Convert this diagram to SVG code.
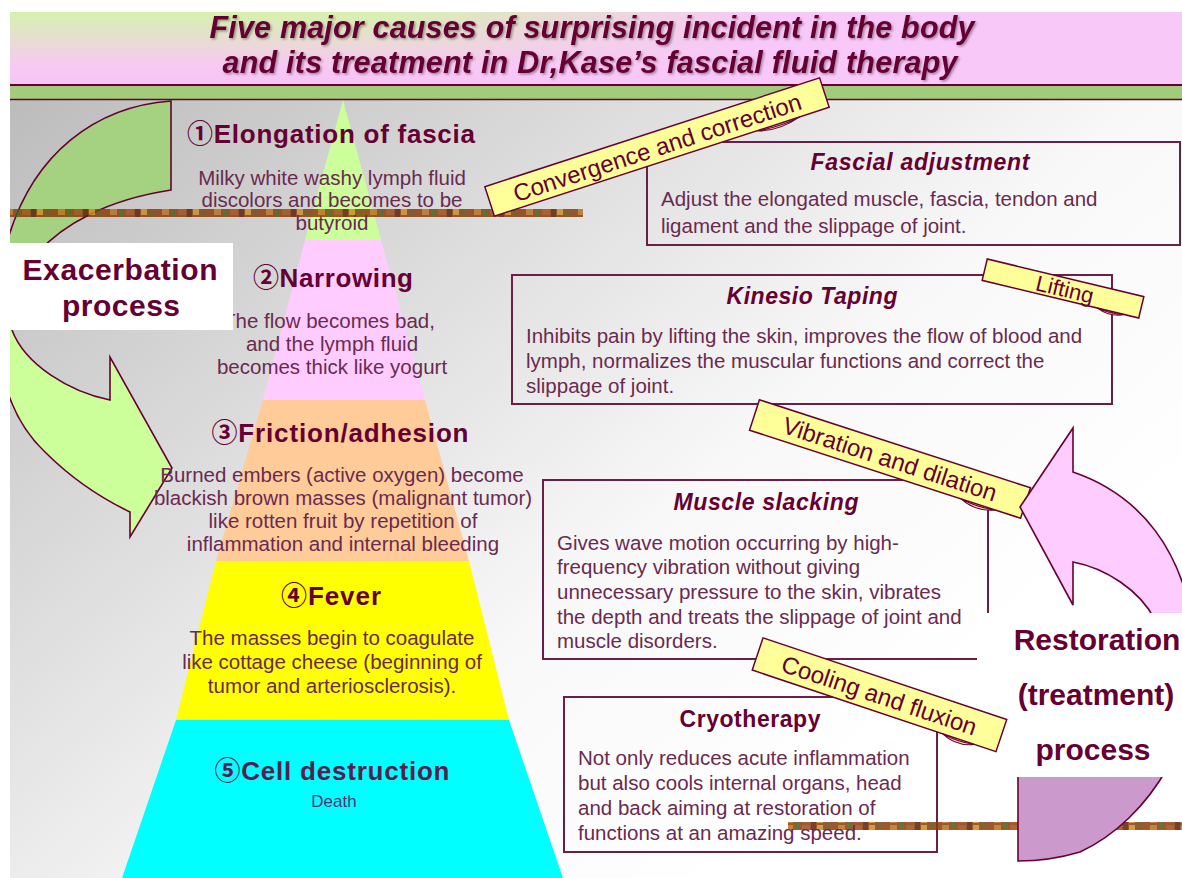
<svg xmlns="http://www.w3.org/2000/svg" width="1182" height="878" viewBox="0 0 1182 878">
<defs>
<style>
.ttl{font-family:"Liberation Sans",Arial,sans-serif;font-weight:bold;font-style:italic;font-size:30.5px;fill:#660033;text-anchor:middle}
.hd{font-family:"Liberation Sans",Arial,"Noto Sans CJK JP",sans-serif;font-weight:bold;font-size:26px;fill:#660033;text-anchor:middle}
.bd{font-family:"Liberation Sans",Arial,sans-serif;font-size:20.5px;fill:#6a2a50;text-anchor:middle}
.bt{font-family:"Liberation Sans",Arial,sans-serif;font-size:20.5px;fill:#6a2a50}
.bh{font-family:"Liberation Sans",Arial,sans-serif;font-weight:bold;font-style:italic;font-size:23px;fill:#660033;text-anchor:middle}
.bx{fill:none;stroke:#6b1f47;stroke-width:2}
.lab{fill:#ffff99;stroke:#660033;stroke-width:1.5}
.curl{fill:#eedcaa;stroke:#660033;stroke-width:1}
.lt{font-family:"Liberation Sans",Arial,sans-serif;font-size:24px;fill:#660033;text-anchor:middle}
.big{font-family:"Liberation Sans",Arial,sans-serif;font-weight:bold;font-size:30px;fill:#660033;text-anchor:middle}
.arr{stroke:#660033;stroke-width:1.6}
</style>
<linearGradient id="bg" gradientUnits="userSpaceOnUse" x1="10" y1="100" x2="700" y2="900">
<stop offset="0" stop-color="#bcbcbc"/><stop offset="0.7" stop-color="#f8f8f8"/><stop offset="1" stop-color="#ffffff"/>
</linearGradient>
<linearGradient id="tv" x1="0" y1="0" x2="0" y2="1">
<stop offset="0" stop-color="#d6f2ae"/><stop offset="0.75" stop-color="#f8c8f4"/><stop offset="1" stop-color="#f6c4f4"/>
</linearGradient>
<linearGradient id="th" gradientUnits="userSpaceOnUse" x1="380" y1="0" x2="760" y2="0">
<stop offset="0" stop-color="#f8c8f8" stop-opacity="0"/><stop offset="1" stop-color="#f8c8f8" stop-opacity="1"/>
</linearGradient>
<linearGradient id="lg" gradientUnits="userSpaceOnUse" x1="0" y1="243" x2="0" y2="330">
<stop offset="0" stop-color="#a4d280"/><stop offset="1" stop-color="#ccff99"/>
</linearGradient>
<linearGradient id="rg" gradientUnits="userSpaceOnUse" x1="0" y1="613" x2="0" y2="777">
<stop offset="0" stop-color="#ffccff"/><stop offset="1" stop-color="#cc99cc"/>
</linearGradient>
<pattern id="tex" width="52" height="8" patternUnits="userSpaceOnUse">
<rect x="0" y="0" width="52" height="8" fill="#8a3c0c"/>
<rect x="6" y="1" width="7" height="6" fill="#b8701c"/>
<rect x="15" y="0" width="5" height="7" fill="#4e5a16"/>
<rect x="22" y="1" width="8" height="6" fill="#a04a14"/>
<rect x="31" y="0" width="5" height="8" fill="#5a2008"/>
<rect x="37" y="1" width="6" height="6" fill="#c88c24"/>
<rect x="45" y="0" width="5" height="7" fill="#6a4a10"/>
</pattern>
<clipPath id="lc"><rect x="10" y="100" width="300" height="500"/></clipPath>
<filter id="sh" x="-5%" y="-20%" width="110%" height="150%">
<feDropShadow dx="1.5" dy="1.5" stdDeviation="0.8" flood-color="#000000" flood-opacity="0.35"/>
</filter>
</defs>

<rect width="1182" height="878" fill="#ffffff"/>
<rect x="10" y="100" width="1172" height="778" fill="url(#bg)"/>

<g id="title">
<rect x="10" y="12" width="1172" height="73" fill="url(#tv)"/>
<rect x="10" y="12" width="1172" height="73" fill="url(#th)"/>
<line x1="10" y1="85" x2="1182" y2="85" stroke="#660033" stroke-width="2"/>
<rect x="10" y="86" width="1172" height="13" fill="#a2cc7c"/>
<line x1="10" y1="99.5" x2="1182" y2="99.5" stroke="#660033" stroke-width="1.5"/>
<text class="ttl" x="592" y="38" textLength="765" filter="url(#sh)">Five major causes of surprising incident in the body</text>
<text class="ttl" x="590" y="73" textLength="735" filter="url(#sh)">and its treatment in Dr,Kase’s fascial fluid therapy</text>
</g>

<g id="exacerbation-arrow" clip-path="url(#lc)">
<path class="arr" fill="url(#lg)" d="M 171,101 C 100,106 30,150 5,250 C -15,330 0,410 45,452 C 75,482 105,500 130,512 L 130,537 L 172,468 L 110,357 L 110,400 C 70,392 25,365 12,330 C 0,290 40,210 171,190 Z"/>
</g>

<g id="pyramid">
<polygon points="343,100 381,240 305,240" fill="#ccff99"/>
<polygon points="305,240 381,240 425,400 263,400" fill="#ffccff"/>
<polygon points="263,400 425,400 469,561 216,561" fill="#ffcc99"/>
<polygon points="216,561 469,561 509,720 176,720" fill="#ffff00"/>
<polygon points="176,720 509,720 563,878 122,878" fill="#00ffff"/>
</g>

<rect id="band-top" x="10" y="209" width="573" height="8" fill="url(#tex)" opacity="0.85"/>

<g id="stage1">
<text class="hd" x="331" y="143" textLength="288">①Elongation of fascia</text>
<text class="bd" x="332" y="185">Milky white washy lymph fluid</text>
<text class="bd" x="332" y="207">discolors and becomes to be</text>
<text class="bd" x="332" y="230">butyroid</text>
</g>
<g id="stage2">
<text class="hd" x="333" y="287" textLength="160">②Narrowing</text>
<text class="bd" x="329" y="328">The flow becomes bad,</text>
<text class="bd" x="332" y="351">and the lymph fluid</text>
<text class="bd" x="332" y="374">becomes thick like yogurt</text>
</g>
<g id="stage3">
<text class="hd" x="340" y="442" textLength="257">③Friction/adhesion</text>
<text class="bd" x="342" y="482">Burned embers (active oxygen) become</text>
<text class="bd" x="343" y="505">blackish brown masses (malignant tumor)</text>
<text class="bd" x="343" y="528">like rotten fruit by repetition of</text>
<text class="bd" x="343" y="551">inflammation and internal bleeding</text>
</g>
<g id="stage4">
<text class="hd" x="331" y="605" textLength="100">④Fever</text>
<text class="bd" x="332" y="645">The masses begin to coagulate</text>
<text class="bd" x="332" y="669">like cottage cheese (beginning of</text>
<text class="bd" x="332" y="693">tumor and arteriosclerosis).</text>
</g>
<g id="stage5">
<text class="hd" x="332" y="780" textLength="235" style="fill:#552050">⑤Cell destruction</text>
<text x="334" y="807" style="font-family:'Liberation Sans',Arial,sans-serif;font-size:17px;fill:#553377;text-anchor:middle">Death</text>
</g>

<g id="exacerbation-label">
<rect x="10" y="243" width="223" height="87" fill="#ffffff"/>
<text class="big" x="120" y="280" textLength="195">Exacerbation</text>
<text class="big" x="121" y="316" textLength="118">process</text>
</g>

<g id="fascial-adjustment">
<rect class="bx" x="647" y="142" width="533" height="103"/>
<text class="bh" x="920" y="170" textLength="219">Fascial adjustment</text>
<text class="bt" x="661" y="206">Adjust the elongated muscle, fascia, tendon and</text>
<text class="bt" x="661" y="233">ligament and the slippage of joint.</text>
</g>

<g id="kinesio-taping">
<rect class="bx" x="512" y="275" width="600" height="129"/>
<text class="bh" x="812" y="304" textLength="171">Kinesio Taping</text>
<text class="bt" x="526" y="343">Inhibits pain by lifting the skin, improves the flow of blood and</text>
<text class="bt" x="526" y="368">lymph, normalizes the muscular functions and correct the</text>
<text class="bt" x="526" y="393">slippage of joint.</text>
</g>

<g id="muscle-slacking">
<rect class="bx" x="543" y="480" width="445" height="179"/>
<text class="bh" x="766" y="510" textLength="185">Muscle slacking</text>
<text class="bt" x="557" y="550">Gives wave motion occurring by high-</text>
<text class="bt" x="557" y="574">frequency vibration without giving</text>
<text class="bt" x="557" y="599">unnecessary pressure to the skin, vibrates</text>
<text class="bt" x="557" y="624">the depth and treats the slippage of joint and</text>
<text class="bt" x="557" y="648">muscle disorders.</text>
</g>

<g id="cryotherapy">
<rect class="bx" x="564" y="697" width="373" height="155"/>
<text class="bh" x="750" y="727" textLength="141" style="font-style:normal">Cryotherapy</text>
<rect id="band-bottom" x="788" y="822" width="394" height="8" fill="url(#tex)" opacity="0.85"/>
<text class="bt" x="578" y="765">Not only reduces acute inflammation</text>
<text class="bt" x="578" y="790">but also cools internal organs, head</text>
<text class="bt" x="578" y="815">and back aiming at restoration of</text>
<text class="bt" x="578" y="840">functions at an amazing speed.</text>
</g>

<g id="label-vibration" transform="translate(890,459) rotate(18)">
<rect class="lab" x="-142.5" y="-16" width="285" height="32"/>
<path class="curl" d="M 80,16 Q 97,24 116,16 Q 98,19 80,16 Z"/>
<text class="lt" x="0" y="8.5">Vibration and dilation</text>
</g>

<g id="restoration-arrow">
<path class="arr" fill="url(#rg)" d="M 1020,507 L 1073,428 L 1073,472 C 1140,495 1185,550 1195,640 C 1205,730 1150,820 1080,852 C 1060,858 1035,861 1018,861 L 1018,760 C 1090,745 1160,690 1155,620 C 1140,590 1105,568 1073,562 L 1073,605 Z"/>
</g>

<g id="restoration-label">
<rect x="977" y="613" width="205" height="164" fill="#ffffff"/>
<text class="big" x="1097" y="650">Restoration</text>
<text class="big" x="1096" y="705">(treatment)</text>
<text class="big" x="1093" y="760">process</text>
</g>

<g id="label-convergence" transform="translate(657,147) rotate(-18)">
<rect class="lab" x="-176" y="-15.5" width="352" height="31"/>
<path class="curl" d="M 100,15.5 Q 120,23 145,15.5 Q 122,19 100,15.5 Z"/>
<text class="lt" x="0" y="9">Convergence and correction</text>
</g>

<g id="label-lifting" transform="translate(1063,288.5) rotate(13.5)">
<rect class="lab" x="-80.5" y="-11" width="161" height="22"/>
<path class="curl" d="M 38,11 Q 52,17 66,11 Q 52,14 38,11 Z"/>
<text class="lt" x="2" y="8" style="font-size:22px">Lifting</text>
</g>

<g id="label-cooling" transform="translate(879.5,694.75) rotate(18.5)">
<rect class="lab" x="-128.5" y="-17" width="257" height="34"/>
<path class="curl" d="M 72,17 Q 89,25 106,17 Q 89,20 72,17 Z"/>
<text class="lt" x="0" y="9">Cooling and fluxion</text>
</g>
</svg>
